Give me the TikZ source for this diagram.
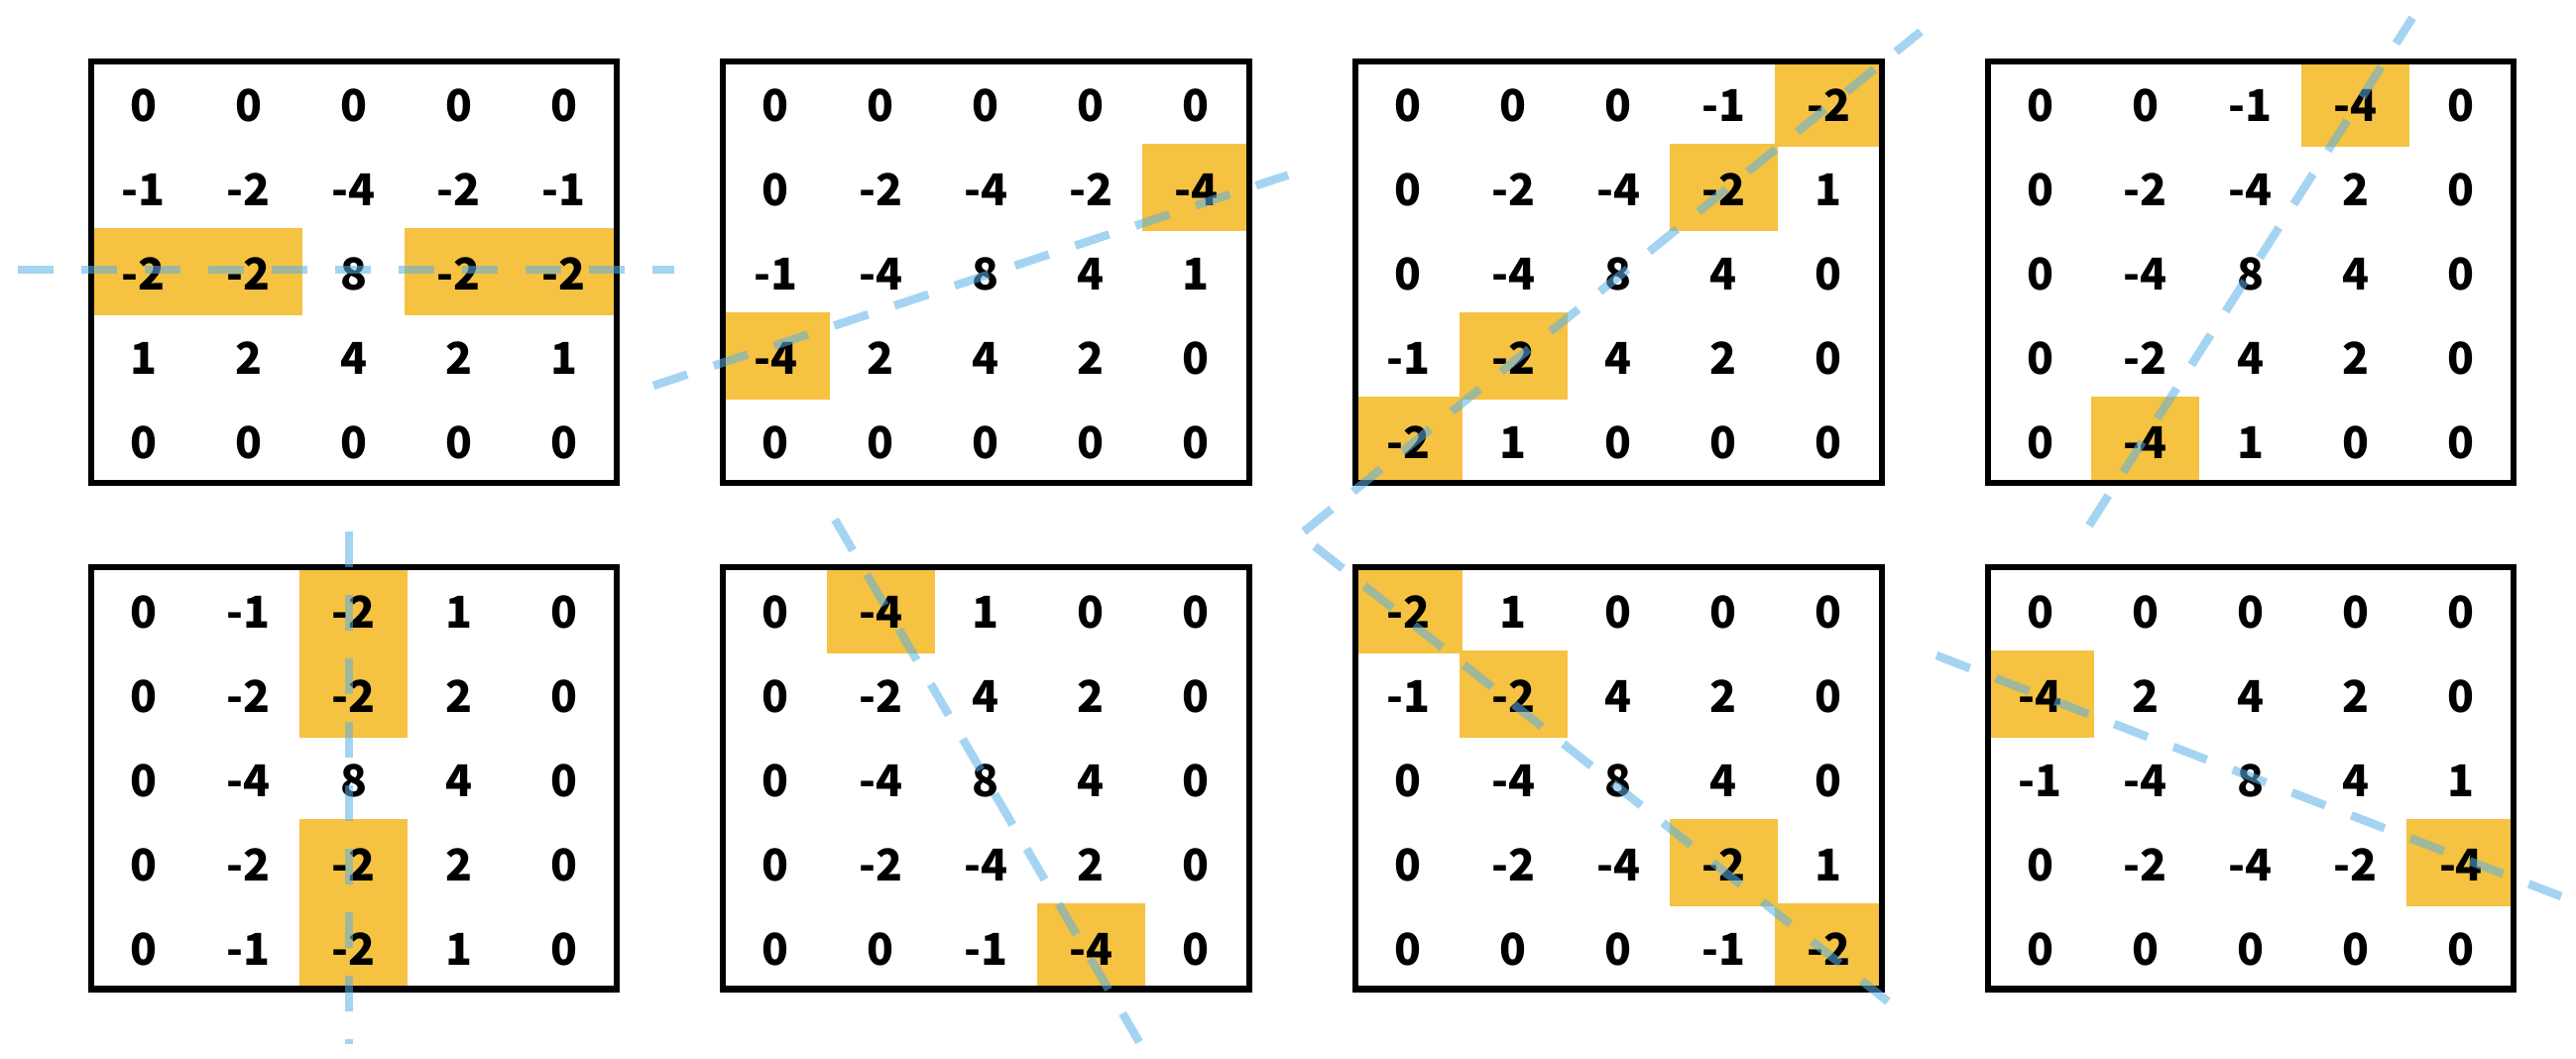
\documentclass[tikz,border=0pt]{standalone}
\usepackage{fontspec}
\setmainfont{Noto Sans CJK JP}
\definecolor{hlyellow}{RGB}{245,194,66}
\definecolor{cutblue}{RGB}{90,177,231}
\newcommand\kgrid[4]{%
  \foreach \rw [count=\ri] in {#4} {
    \foreach \val [count=\ci] in \rw {
      \node[num] (#1-\ri-\ci) at ({#2+(\ci-0.5)*106.1},{#3+(\ri-0.5)*85+2}) {\val};
    }
  }
}
\newcommand\khl[4]{\fill[hlfill] ({#1+(#4-1)*106.1-1.5},{#2+(#3-1)*85-1.5}) rectangle ++(109,88);}
\newcommand\kframe[2]{\draw[frame] (#1,#2) rectangle ++(530.5,425);}
\begin{document}
\begin{tikzpicture}[x=0.01cm,y=-0.01cm,
  num/.style={font=\bfseries\fontsize{12.6pt}{15pt}\selectfont, inner sep=0pt, text=black},
  frame/.style={draw=black, line width=0.06cm},
  hlfill/.style={fill=hlyellow},
  cut/.style={draw=cutblue, draw opacity=0.55, line width=0.085cm, dash pattern=on 0.36cm off 0.28cm}]
\useasboundingbox (0,0) rectangle (2598,1068);
% highlights
\khl{91.5}{62}{3}{1}\khl{91.5}{62}{3}{2}\khl{91.5}{62}{3}{4}\khl{91.5}{62}{3}{5}
\khl{729}{62}{2}{5}\khl{729}{62}{4}{1}
\khl{1367}{62}{1}{5}\khl{1367}{62}{2}{4}\khl{1367}{62}{4}{2}\khl{1367}{62}{5}{1}
\khl{2004.5}{62}{1}{4}\khl{2004.5}{62}{5}{2}
\khl{91.5}{572.5}{1}{3}\khl{91.5}{572.5}{2}{3}\khl{91.5}{572.5}{4}{3}\khl{91.5}{572.5}{5}{3}
\khl{729}{572.5}{1}{2}\khl{729}{572.5}{5}{4}
\khl{1367}{572.5}{1}{1}\khl{1367}{572.5}{2}{2}\khl{1367}{572.5}{4}{4}\khl{1367}{572.5}{5}{5}
\khl{2004.5}{572.5}{2}{1}\khl{2004.5}{572.5}{4}{5}
% numbers
\kgrid{a}{91.5}{62}{{0,0,0,0,0},{-1,-2,-4,-2,-1},{-2,-2,8,-2,-2},{1,2,4,2,1},{0,0,0,0,0}}
\kgrid{b}{729}{62}{{0,0,0,0,0},{0,-2,-4,-2,-4},{-1,-4,8,4,1},{-4,2,4,2,0},{0,0,0,0,0}}
\kgrid{c}{1367}{62}{{0,0,0,-1,-2},{0,-2,-4,-2,1},{0,-4,8,4,0},{-1,-2,4,2,0},{-2,1,0,0,0}}
\kgrid{d}{2004.5}{62}{{0,0,-1,-4,0},{0,-2,-4,2,0},{0,-4,8,4,0},{0,-2,4,2,0},{0,-4,1,0,0}}
\kgrid{e}{91.5}{572.5}{{0,-1,-2,1,0},{0,-2,-2,2,0},{0,-4,8,4,0},{0,-2,-2,2,0},{0,-1,-2,1,0}}
\kgrid{f}{729}{572.5}{{0,-4,1,0,0},{0,-2,4,2,0},{0,-4,8,4,0},{0,-2,-4,2,0},{0,0,-1,-4,0}}
\kgrid{g}{1367}{572.5}{{-2,1,0,0,0},{-1,-2,4,2,0},{0,-4,8,4,0},{0,-2,-4,-2,1},{0,0,0,-1,-2}}
\kgrid{h}{2004.5}{572.5}{{0,0,0,0,0},{-4,2,4,2,0},{-1,-4,8,4,1},{0,-2,-4,-2,-4},{0,0,0,0,0}}
% frames
\kframe{91.5}{62}\kframe{729}{62}\kframe{1367}{62}\kframe{2004.5}{62}
\kframe{91.5}{572.5}\kframe{729}{572.5}\kframe{1367}{572.5}\kframe{2004.5}{572.5}
% cut lines
\coordinate (l1a) at (18,272);     \coordinate (l1b) at (680,272);
\coordinate (l2a) at (659,389);    \coordinate (l2b) at (1299,176.5);
\coordinate (l3a) at (1315,536);   \coordinate (l3b) at (1937,32);
\coordinate (l4a) at (2107,530);   \coordinate (l4b) at (2433,18);
\coordinate (l5a) at (352,536);    \coordinate (l5b) at (352,1053);
\coordinate (l6a) at (842,524);    \coordinate (l6b) at (1149,1051);
\coordinate (l7a) at (1326,551);   \coordinate (l7b) at (1904,1010);
\coordinate (l8a) at (1953,661);   \coordinate (l8b) at (2583,904);
\draw[cut] (l1a) -- (l1b);
\draw[cut] (l2a) -- (l2b);
\draw[cut] (l3a) -- (l3b);
\draw[cut] (l4a) -- (l4b);
\draw[cut] (l5a) -- (l5b);
\draw[cut] (l6a) -- (l6b);
\draw[cut] (l7a) -- (l7b);
\draw[cut] (l8a) -- (l8b);
\end{tikzpicture}
\end{document}
